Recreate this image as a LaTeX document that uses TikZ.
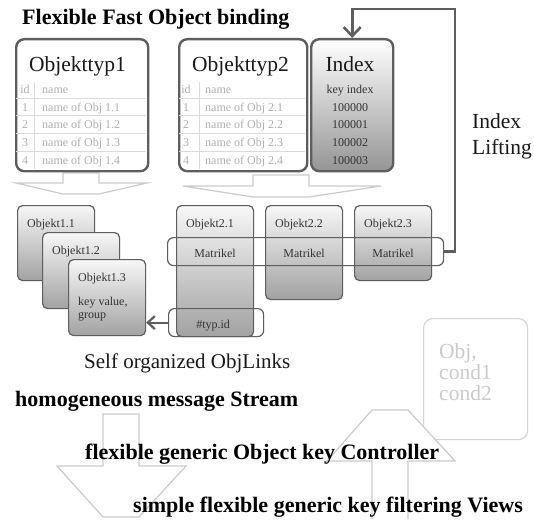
\documentclass[tikz,border=0pt]{standalone}
\usepackage{fontspec}
\setmainfont{Liberation Serif}
\usetikzlibrary{positioning}
\usetikzlibrary{arrows.meta}

\definecolor{frame}{HTML}{5E5E5E}
\definecolor{pale}{HTML}{CBCBCB}
\definecolor{tabtxt}{HTML}{B0B0B0}
\definecolor{objtop}{HTML}{F7F7F7}
\definecolor{objbot}{HTML}{A2A2A2}
\definecolor{idxbot}{HTML}{959595}

\tikzset{
  typbox/.style={draw=frame, line width=2.4pt, rounded corners=8pt, inner sep=0pt, anchor=north west, minimum height=132pt},
  objbox/.style={draw=frame, line width=1.2pt, rounded corners=5pt, top color=objtop, bottom color=objbot, inner sep=0pt, anchor=north west, minimum width=77pt},
  band/.style={draw=frame, line width=1.2pt, rounded corners=6pt, inner sep=0pt, anchor=north west, minimum height=28pt},
  bigtxt/.style={font=\fontsize{21.5}{26}\selectfont, inner sep=0pt, text=black!90},
  headtxt/.style={font=\bfseries\fontsize{22}{24}\selectfont, inner sep=0pt, anchor=base west},
  tabtxt/.style={font=\fontsize{12}{14}\selectfont, inner sep=0pt, text=tabtxt, anchor=base},
  smalltxt/.style={font=\fontsize{12}{13}\selectfont, inner sep=0pt, text=black!80, anchor=base},
  tabline/.style={draw=pale!70, line width=0.9pt},
  flowarrow/.style={draw=pale, line width=1.2pt, fill=white, line join=miter},
  linkarrow/.style={draw=frame, line width=2.6pt}
}

\begin{document}
\begin{tikzpicture}[x=1pt,y=-1pt]
\useasboundingbox[fill=white] (0,0) rectangle (534,519);

\draw[flowarrow] (63,173) -- (99,173) -- (99,183) -- (147,183) -- (99,194) -- (63,194) -- (16,183) -- (63,183) -- cycle;
\draw[flowarrow] (253,175) -- (309,175) -- (309,186) -- (381,186) -- (309,197) -- (253,197) -- (183,186) -- (253,186) -- cycle;
\draw[flowarrow] (103,414) -- (139,414) -- (139,466) -- (186,466) -- (139,517) -- (103,517) -- (57,466) -- (103,466) -- cycle;

\node[draw=pale!80, line width=1.2pt, rounded corners=9pt, anchor=north west, minimum width=104pt, minimum height=121pt, inner sep=0pt] (objcond) at (423,318) {};
\node[bigtxt, text=pale, align=left, anchor=north west, font=\fontsize{21.5}{21}\selectfont] (condtxt) at (439,343.5) {Obj,\\cond1\\cond2};

\fill[white] (372,519) -- (372,461) -- (327,461) -- (372,410) -- (408,410) -- (455,461) -- (408,461) -- (408,519) -- cycle;
\draw[flowarrow, fill=none] (372,519) -- (372,461) -- (327,461) -- (372,410) -- (408,410) -- (455,461) -- (408,461) -- (408,519);

\node[headtxt] (title) at (22,25) {Flexible Fast Object binding};

\node[typbox, minimum width=132pt] (typ1) at (15,38) {};
\node[typbox, minimum width=128pt] (typ2) at (178,38) {};
\node[typbox, minimum width=82pt, top color=white, bottom color=idxbot] (index) at (310,38) {};

\foreach \yy in {98,115,133,151} {
  \draw[tabline] (16,\yy) -- (146,\yy);
  \draw[tabline] (179,\yy) -- (305,\yy);
}
\draw[tabline] (34,82) -- (34,169);
\draw[tabline] (199,82) -- (199,169);

\node[bigtxt, anchor=base west] (typ1name) at (29,71) {Objekttyp1};
\node[bigtxt, anchor=base west] (typ2name) at (192,71) {Objekttyp2};
\node[bigtxt, anchor=base] (indexname) at (350,71) {Index};

\node[tabtxt] (t1id) at (25,93) {id};
\node[tabtxt, anchor=base west] (t1name) at (42,93) {name};
\node[tabtxt] (t2id) at (186,93) {id};
\node[tabtxt, anchor=base west] (t2name) at (205,93) {name};
\node[smalltxt] (keyindex) at (350,93) {key index};
\foreach \i/\yy/\v in {1/111/100000,2/128/100001,3/146/100002,4/164/100003} {
  \node[tabtxt] (t1id\i) at (25,\yy) {\i};
  \node[tabtxt, anchor=base west] (t1nm\i) at (42,\yy) {name of Obj 1.\i};
  \node[tabtxt] (t2id\i) at (186,\yy) {\i};
  \node[tabtxt, anchor=base west] (t2nm\i) at (205,\yy) {name of Obj 2.\i};
  \node[smalltxt] (idx\i) at (350,\yy) {\v};
}

\node[objbox, minimum height=75pt] (o11) at (17,205) {};
\node[objbox, minimum height=76pt] (o12) at (42,232) {};
\node[objbox, minimum height=76pt] (o13) at (68,259) {};
\node[objbox, minimum height=131pt] (o21) at (176,205) {};
\node[objbox, minimum height=94pt] (o22) at (265,205) {};
\node[objbox, minimum height=75pt] (o23) at (354,205) {};

\foreach \o/\t in {o11/Objekt1.1,o12/Objekt1.2,o13/Objekt1.3,o21/Objekt2.1,o22/Objekt2.2,o23/Objekt2.3}
  \node[smalltxt, anchor=base west] (\o lbl) at ([shift={(10,22)}]\o.north west) {\t};
\node[smalltxt, align=left, anchor=north west] (keyval) at (78,296.5) {key value,\\group};

\node[band, minimum width=276pt] (mband) at (167,237) {};
\node[band, minimum width=95pt] (tband) at (168,308) {};
\foreach \o in {o21,o22,o23}
  \node[smalltxt] (\o mat) at ([shift={(0,52)}]\o.north) {Matrikel};
\node[smalltxt] (typid) at ([shift={(-2,123)}]o21.north) {\#typ.id};

\draw[linkarrow, line width=2.2pt, -{Straight Barb[length=7pt,width=13pt]}] (tband.west) -- (tband.west -| o13.east);
\coordinate (lifttop) at (455,9);
\draw[linkarrow, -{Straight Barb[length=9pt,width=17pt]}] (mband.east) -| (lifttop) -| (index.north);
\node[bigtxt, align=left, anchor=north west] (lift) at (472,113.5) {Index\\Lifting};

\node[bigtxt, anchor=base west, font=\fontsize{21}{24}\selectfont] (selforg) at (84,368) {Self organized ObjLinks};
\node[headtxt] (stream) at (15,406) {homogeneous message Stream};
\node[headtxt] (controller) at (85,459) {flexible generic Object key Controller};
\node[headtxt] (views) at (133,512) {simple flexible generic key filtering Views};
\end{tikzpicture}
\end{document}
